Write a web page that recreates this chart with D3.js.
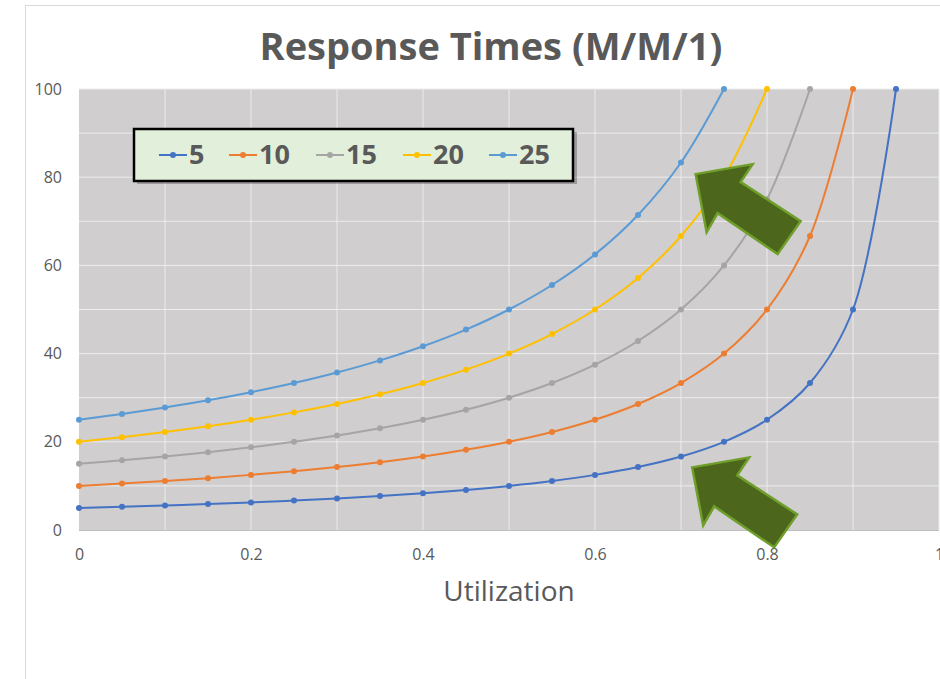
<!DOCTYPE html>
<html>
<head>
<meta charset="utf-8">
<script src="https://cdn.jsdelivr.net/npm/d3@7"></script>
<style>
  body { margin: 0; background: #fff; }
  svg { display: block; font-family: "Open Sans", sans-serif; }
</style>
</head>
<body>
<script>
const utilization = [0, 0.05, 0.1, 0.15, 0.2, 0.25, 0.3, 0.35, 0.4, 0.45, 0.5, 0.55, 0.6, 0.65, 0.7, 0.75, 0.8, 0.85, 0.9, 0.95]
const seriesNames = ["5", "10", "15", "20", "25"]
const rt5 = [5, 5.26, 5.56, 5.88, 6.25, 6.67, 7.14, 7.69, 8.33, 9.09, 10, 11.11, 12.5, 14.29, 16.67, 20, 25, 33.33, 50, 100]
const rt10 = [10, 10.53, 11.11, 11.76, 12.5, 13.33, 14.29, 15.38, 16.67, 18.18, 20, 22.22, 25, 28.57, 33.33, 40, 50, 66.67, 100]
const rt15 = [15, 15.79, 16.67, 17.65, 18.75, 20, 21.43, 23.08, 25, 27.27, 30, 33.33, 37.5, 42.86, 50, 60, 75, 100]
const rt20 = [20, 21.05, 22.22, 23.53, 25, 26.67, 28.57, 30.77, 33.33, 36.36, 40, 44.44, 50, 57.14, 66.67, 80, 100]
const rt25 = [25, 26.32, 27.78, 29.41, 31.25, 33.33, 35.71, 38.46, 41.67, 45.45, 50, 55.56, 62.5, 71.43, 83.33, 100]
const xTicks = [0, 0.2, 0.4, 0.6, 0.8, 1]
const yTicks = [0, 20, 40, 60, 80, 100]
// arrow tips (utilization, response time)
const arrowTips = [[0.717, 80.7], [0.713, 14.2]]

const colors = ["#4472C4", "#ED7D31", "#A5A5A5", "#FFC000", "#5B9BD5"]
const allSeries = [rt5, rt10, rt15, rt20, rt25]

const svg = d3.select("body").append("svg")
    .attr("width", 940)
    .attr("height", 679)

svg.append("rect")
    .attr("x", 25.5).attr("y", 5.5)
    .attr("width", 940).attr("height", 700)
    .attr("fill", "#fff").attr("stroke", "#d9d9d9")

const x = d3.scaleLinear().domain([0, 1]).range([79, 939])
const y = d3.scaleLinear().domain([0, 100]).range([530, 89])

svg.append("rect")
    .attr("x", x(0)).attr("y", y(100))
    .attr("width", x(1) - x(0)).attr("height", y(0) - y(100))
    .attr("fill", "#D0CECE")

// gridlines
svg.append("g").selectAll("line")
    .data(d3.range(1, 11).map(d => d * 10))
    .join("line")
    .attr("x1", x(0)).attr("x2", x(1))
    .attr("y1", d => y(d)).attr("y2", d => y(d))
    .attr("stroke", "#EDEDED").attr("stroke-width", 1)
svg.append("g").selectAll("line")
    .data(d3.range(1, 11).map(d => d / 10))
    .join("line")
    .attr("x1", d => x(d)).attr("x2", d => x(d))
    .attr("y1", y(0)).attr("y2", y(100))
    .attr("stroke", "#EDEDED").attr("stroke-width", 1)

svg.append("line")
    .attr("x1", x(0)).attr("x2", x(1))
    .attr("y1", y(0) + 0.5).attr("y2", y(0) + 0.5)
    .attr("stroke", "#BFBFBF")

// axes
const axisX = svg.append("g")
    .attr("transform", `translate(0, ${y(0) + 16})`)
    .call(d3.axisBottom(x).tickValues(xTicks).tickSize(0).tickFormat(d3.format("")))
axisX.select(".domain").remove()
axisX.selectAll("text").attr("font-size", 16).attr("fill", "#595959").attr("font-family", "Open Sans")

const axisY = svg.append("g")
    .attr("transform", `translate(62, 0)`)
    .call(d3.axisLeft(y).tickValues(yTicks).tickSize(0).tickPadding(0))
axisY.select(".domain").remove()
axisY.selectAll("text").attr("font-size", 16).attr("fill", "#595959").attr("font-family", "Open Sans")

// lines
const line = d3.line()
    .x((d, i) => x(utilization[i]))
    .y(d => y(d))
    .curve(d3.curveCatmullRom.alpha(0.5))

allSeries.forEach((s, k) => {
    const g = svg.append("g")
    g.append("path")
        .attr("d", line(s))
        .attr("fill", "none")
        .attr("stroke", colors[k])
        .attr("stroke-width", 2)
    g.selectAll("circle")
        .data(s)
        .join("circle")
        .attr("cx", (d, i) => x(utilization[i]))
        .attr("cy", d => y(d))
        .attr("r", 3)
        .attr("fill", colors[k])
})

// arrows
const arrowShape = [[0, 0], [57, -10], [45, 8], [105, 47], [82, 80], [22, 39], [11, 58]]
svg.append("g").selectAll("polygon")
    .data(arrowTips)
    .join("polygon")
    .attr("points", d => arrowShape.map(p => [x(d[0]) + p[0], y(d[1]) + p[1]].join(",")).join(" "))
    .attr("fill", "#4C661C")
    .attr("stroke", "#6F9E2B")
    .attr("stroke-width", 2.5)
    .attr("stroke-linejoin", "miter")

// legend
const legend = svg.append("g").attr("transform", "translate(134, 129)")
legend.append("rect")
    .attr("x", 3).attr("y", 3).attr("width", 440).attr("height", 52)
    .attr("fill", "#000").attr("opacity", 0.25)
legend.append("rect")
    .attr("width", 439).attr("height", 52)
    .attr("fill", "#E2EFDA").attr("stroke", "#000").attr("stroke-width", 2.5)
const legendX = [25, 95, 182, 269, 355]
seriesNames.forEach((name, k) => {
    const item = legend.append("g").attr("transform", `translate(${legendX[k]}, 26)`)
    item.append("line").attr("x1", 0).attr("x2", 28)
        .attr("stroke", colors[k]).attr("stroke-width", 2)
    item.append("circle").attr("cx", 14).attr("r", 3).attr("fill", colors[k])
    item.append("text").attr("x", 30).attr("dy", "0.35em")
        .attr("font-size", 27).attr("font-weight", "bold").attr("fill", "#595959")
        .text(name)
})

// titles
svg.append("text")
    .attr("x", 491).attr("y", 60)
    .attr("text-anchor", "middle")
    .attr("font-size", 38).attr("font-weight", "bold").attr("fill", "#595959")
    .text("Response Times (M/M/1)")

svg.append("text")
    .attr("x", 509).attr("y", 601)
    .attr("text-anchor", "middle")
    .attr("font-size", 28).attr("fill", "#595959")
    .text("Utilization")
</script>
</body>
</html>
